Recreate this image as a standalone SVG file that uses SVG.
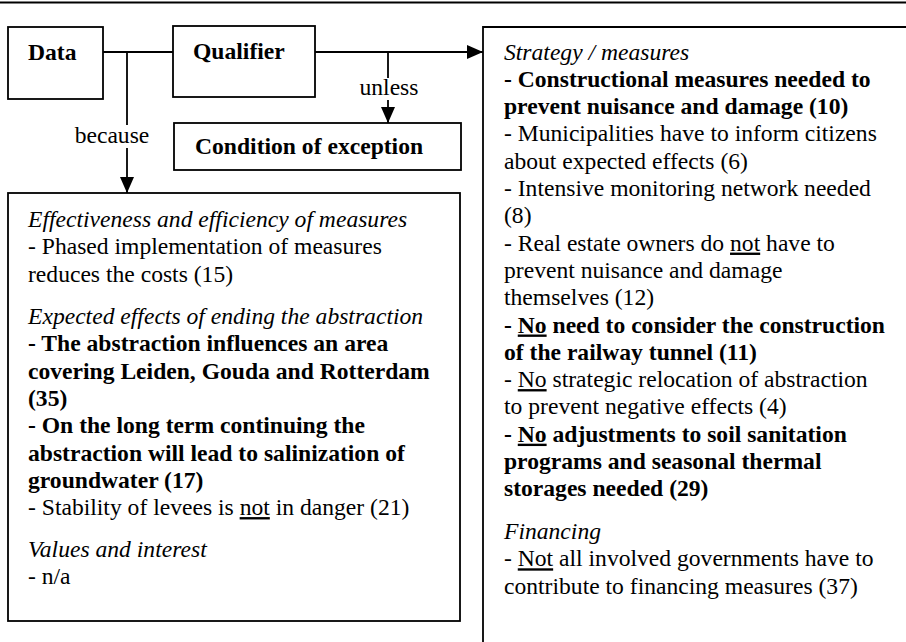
<svg xmlns="http://www.w3.org/2000/svg" width="906" height="642" viewBox="0 0 906 642" font-family="Liberation Serif, Times New Roman, Times, DejaVu Serif, serif">
  <style>
    text { font-family: "Liberation Serif", "Times New Roman", Times, "DejaVu Serif", serif; font-size: 23.6px; fill: #000; }
    .b { font-weight: bold; }
    .i { font-style: italic; }
    .u { text-decoration: underline; }
    .box { fill: #fff; stroke: #000; stroke-width: 1.8; }
    .ln { fill: none; stroke: #000; stroke-width: 1.8; }
  </style>
  <defs>
    <marker id="arrow" viewBox="0 0 16 14" refX="16" refY="7" markerWidth="16" markerHeight="14" markerUnits="userSpaceOnUse" orient="auto">
      <path d="M0,0 L16,7 L0,14 Z" fill="#000"/>
    </marker>
  </defs>

  <rect width="906" height="642" fill="#fff"/>
  <!-- top rule -->
  <line x1="0" y1="2.5" x2="906" y2="2.5" stroke="#000" stroke-width="2"/>

  <g id="connectors">
    <line class="ln" x1="103" y1="52" x2="173" y2="52"/>
    <line class="ln" x1="127" y1="52" x2="127" y2="193" marker-end="url(#arrow)"/>
    <line class="ln" x1="315" y1="52" x2="483" y2="52" marker-end="url(#arrow)"/>
    <line class="ln" x1="388" y1="52" x2="388" y2="123" marker-end="url(#arrow)"/>
    <g id="label-because">
      <rect x="72" y="125" width="80" height="23" fill="#fff"/>
      <text x="112" y="143" text-anchor="middle">because</text>
    </g>
    <g id="label-unless">
      <rect x="358" y="78" width="62" height="22" fill="#fff"/>
      <text x="389" y="95" text-anchor="middle">unless</text>
    </g>
  </g>

  <g id="data">
    <rect class="box" x="8" y="27" width="95" height="72"/>
    <text class="b" x="28" y="60">Data</text>
  </g>

  <g id="qualifier">
    <rect class="box" x="173" y="26" width="142" height="71"/>
    <text class="b" x="193" y="59">Qualifier</text>
  </g>

  <g id="condition">
    <rect class="box" x="174" y="123" width="287" height="47"/>
    <text class="b" x="195" y="154">Condition of exception</text>
  </g>

  <g id="warrant">
    <rect class="box" x="8" y="193" width="452" height="428"/>
    <text class="i" x="28" y="227">Effectiveness and efficiency of measures</text>
    <text x="28" y="254.3">- Phased implementation of measures</text>
    <text x="28" y="281.6">reduces the costs (15)</text>
    <text class="i" x="28" y="324">Expected effects of ending the abstraction</text>
    <text class="b" x="28" y="351.3">- The abstraction influences an area</text>
    <text class="b" x="28" y="378.6">covering Leiden, Gouda and Rotterdam</text>
    <text class="b" x="28" y="405.9">(35)</text>
    <text class="b" x="28" y="433.2">- On the long term continuing the</text>
    <text class="b" x="28" y="460.5">abstraction will lead to salinization of</text>
    <text class="b" x="28" y="487.8">groundwater (17)</text>
    <text x="28" y="515.1">- Stability of levees is <tspan class="u">not</tspan> in danger (21)</text>
    <text class="i" x="28" y="556.5">Values and interest</text>
    <text x="28" y="583.8">- n/a</text>
  </g>

  <g id="claim">
    <path class="ln" d="M906,27 H483 V642"/>
    <text class="i" x="504" y="59.5">Strategy / measures</text>
    <text class="b" x="504" y="86.8">- Constructional measures needed to</text>
    <text class="b" x="504" y="114.1">prevent nuisance and damage (10)</text>
    <text x="504" y="141.4">- Municipalities have to inform citizens</text>
    <text x="504" y="168.7">about expected effects (6)</text>
    <text x="504" y="196">- Intensive monitoring network needed</text>
    <text x="504" y="223.3">(8)</text>
    <text x="504" y="250.6">- Real estate owners do <tspan class="u">not</tspan> have to</text>
    <text x="504" y="277.9">prevent nuisance and damage</text>
    <text x="504" y="305.2">themselves (12)</text>
    <text class="b" x="504" y="332.5">- <tspan class="u">No</tspan> need to consider the construction</text>
    <text class="b" x="504" y="359.8">of the railway tunnel (11)</text>
    <text x="504" y="387.1">- <tspan class="u">No</tspan> strategic relocation of abstraction</text>
    <text x="504" y="414.4">to prevent negative effects (4)</text>
    <text class="b" x="504" y="441.7">- <tspan class="u">No</tspan> adjustments to soil sanitation</text>
    <text class="b" x="504" y="469">programs and seasonal thermal</text>
    <text class="b" x="504" y="496.3">storages needed (29)</text>
    <text class="i" x="504" y="539">Financing</text>
    <text x="504" y="566.3">- <tspan class="u">Not</tspan> all involved governments have to</text>
    <text x="504" y="593.6">contribute to financing measures (37)</text>
  </g>
</svg>
